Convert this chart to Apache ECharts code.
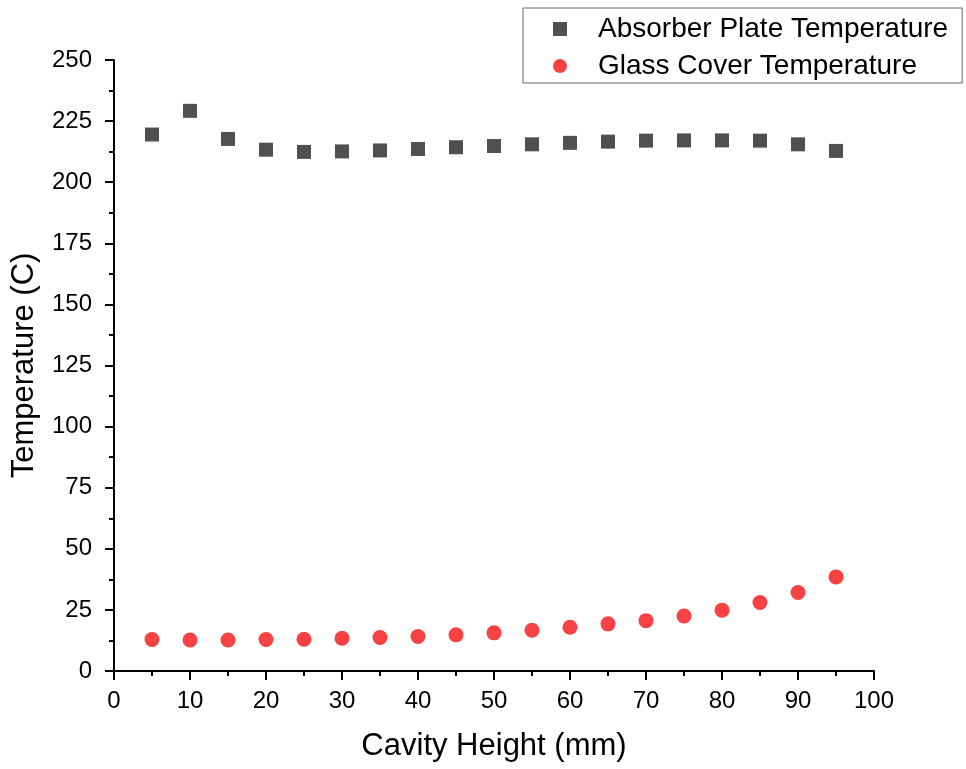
<!DOCTYPE html>
<html><head><meta charset="utf-8">
<script src="https://cdn.jsdelivr.net/npm/echarts@6/dist/echarts.min.js"></script>
<style>html,body{margin:0;padding:0;background:#fff}#c{width:966px;height:769px}</style>
</head><body><div id="c"></div>
<script>
const cavityHeights = [5,10,15,20,25,30,35,40,45,50,55,60,65,70,75,80,85,90,95];
const absorberTemp = [219.5,229.2,217.7,213.3,212.4,212.6,213.0,213.6,214.3,214.8,215.5,216.1,216.6,217.0,217.1,217.1,217.0,215.5,212.8];
const glassTemp = [12.9,12.7,12.7,12.9,13.0,13.4,13.7,14.1,14.8,15.6,16.7,17.9,19.3,20.6,22.5,24.9,28.0,32.1,38.5];
const seriesNames = ['Absorber Plate Temperature','Glass Cover Temperature'];

const chart = echarts.init(document.getElementById('c'), null, {renderer:'canvas'});
const font = 'Liberation Sans, Arial, sans-serif';
const axisCommon = {
  axisLine:{show:true, onZero:false, lineStyle:{color:'#000', width:2}},
  axisTick:{show:true, inside:false, length:9, lineStyle:{color:'#000', width:2}},
  minorTick:{show:true, splitNumber:2, length:5, lineStyle:{color:'#000', width:2}},
  splitLine:{show:false},
  axisLabel:{color:'#000', fontSize:24, fontFamily:font}
};
chart.setOption({
  animation:false,
  backgroundColor:'#fff',
  grid:{left:114, right:92, top:60, bottom:98, containLabel:false, outerBoundsMode:'none'},
  legend:{
    orient:'vertical', left:523, top:8,
    padding:[7,14,3,30],
    itemGap:9,
    itemWidth:14, itemHeight:14,
    borderColor:'#666', borderWidth:1,
    textStyle:{fontSize:28, fontFamily:font, color:'#000', padding:[0,0,0,26]},
    data:[{name:seriesNames[0], icon:'rect'},{name:seriesNames[1], icon:'circle'}]
  },
  xAxis:Object.assign({}, axisCommon, {
    type:'value', min:0, max:100, interval:10,
    name:'Cavity Height (mm)', nameLocation:'middle', nameGap:60,
    nameTextStyle:{fontSize:31, fontFamily:font, color:'#000'},
    axisLabel:Object.assign({}, axisCommon.axisLabel, {margin:18})
  }),
  yAxis:Object.assign({}, axisCommon, {
    type:'value', min:0, max:250, interval:25,
    name:'Temperature (C)', nameLocation:'middle', nameGap:74,
    nameTextStyle:{fontSize:31, fontFamily:font, color:'#000'},
    axisLabel:Object.assign({}, axisCommon.axisLabel, {margin:22})
  }),
  series:[
    {name:seriesNames[0], type:'scatter', symbol:'rect', symbolSize:14,
     itemStyle:{color:'#505050', opacity:1},
     data:cavityHeights.map((x,i)=>[x,absorberTemp[i]])},
    {name:seriesNames[1], type:'scatter', symbol:'circle', symbolSize:15,
     itemStyle:{color:'#F64242', opacity:1},
     data:cavityHeights.map((x,i)=>[x,glassTemp[i]])}
  ]
});
</script></body></html>
